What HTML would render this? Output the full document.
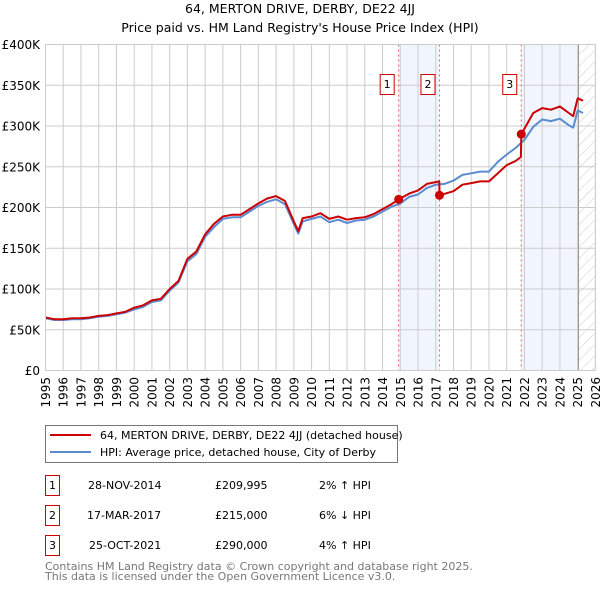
<!DOCTYPE html>
<html><head><meta charset="utf-8">
<style>
body{margin:0;background:#fff;width:600px;height:590px;overflow:hidden;font-family:"DejaVu Sans","Liberation Sans",sans-serif;}
svg{display:block}
</style></head>
<body>
<svg id="chart" width="600" height="590" xmlns="http://www.w3.org/2000/svg" font-family="DejaVu Sans, Liberation Sans, sans-serif">
<text x="300" y="13" text-anchor="middle" font-size="12.5" fill="#000">64, MERTON DRIVE, DERBY, DE22 4JJ</text>
<text x="300" y="32" text-anchor="middle" font-size="12.5" fill="#000">Price paid vs. HM Land Registry's House Price Index (HPI)</text>
<defs>
<pattern id="hatch" width="8" height="8" patternUnits="userSpaceOnUse" patternTransform="rotate(45)">
<line x1="0" y1="0" x2="0" y2="8" stroke="#ccc" stroke-width="1"/>
</pattern>
<clipPath id="plotclip"><rect x="45" y="44" width="550" height="326"/></clipPath>
</defs>
<g id="grid"></g>
<g id="bands"></g>
<g id="series" clip-path="url(#plotclip)"></g>
<g id="axes"></g>

<g>
<rect x="45.5" y="425.5" width="352" height="37" fill="#fff" stroke="#777"/>
<line x1="50" y1="435" x2="91" y2="435" stroke="#cc0000" stroke-width="2"/>
<text x="100" y="439" font-size="11">64, MERTON DRIVE, DERBY, DE22 4JJ (detached house)</text>
<line x1="50" y1="452" x2="91" y2="452" stroke="#5b8bd0" stroke-width="2"/>
<text x="100" y="456" font-size="11">HPI: Average price, detached house, City of Derby</text>
</g>

<g font-size="11">
<rect x="45.5" y="475.5" width="14" height="20" fill="#fff" stroke="#cc0000"/><text x="52.5" y="489" text-anchor="middle">1</text>
<text x="88" y="489">28-NOV-2014</text><text x="215" y="489">£209,995</text><text x="319" y="489">2% ↑ HPI</text>
<rect x="45.5" y="505.5" width="14" height="20" fill="#fff" stroke="#cc0000"/><text x="52.5" y="519" text-anchor="middle">2</text>
<text x="87" y="519">17-MAR-2017</text><text x="215" y="519">£215,000</text><text x="319" y="519">6% ↓ HPI</text>
<rect x="45.5" y="535.5" width="14" height="20" fill="#fff" stroke="#cc0000"/><text x="52.5" y="549" text-anchor="middle">3</text>
<text x="89" y="549">25-OCT-2021</text><text x="215" y="549">£290,000</text><text x="319" y="549">4% ↑ HPI</text>
</g>
<text x="45" y="570" font-size="11" fill="#777">Contains HM Land Registry data © Crown copyright and database right 2025.</text>
<text x="45" y="580" font-size="11" fill="#777">This data is licensed under the Open Government Licence v3.0.</text>
</svg>
<script>
const hpiDates=[1995,1995.5,1996,1996.5,1997,1997.5,1998,1998.5,1999,1999.5,2000,2000.5,2001,2001.5,2002,2002.5,2003,2003.5,2004,2004.5,2005,2005.5,2006,2006.5,2007,2007.5,2008,2008.5,2009,2009.25,2009.5,2010,2010.5,2011,2011.5,2012,2012.5,2013,2013.5,2014,2014.5,2015,2015.5,2016,2016.5,2017,2017.5,2018,2018.5,2019,2019.5,2020,2020.5,2021,2021.5,2022,2022.5,2023,2023.5,2024,2024.5,2024.75,2025,2025.3];
const hpiValues=[64,62,62,63,63,64,66,67,69,71,75,78,84,86,98,108,134,143,164,176,186,188,188,195,202,207,210,204,180,168,183,186,189,182,185,181,184,185,189,195,201,205,213,216,224,228,229,233,240,242,244,244,256,265,273,283,299,308,306,309,301,298,319,316];
const priceDates=[1995,1995.5,1996,1996.5,1997,1997.5,1998,1998.5,1999,1999.5,2000,2000.5,2001,2001.5,2002,2002.5,2003,2003.5,2004,2004.5,2005,2005.5,2006,2006.5,2007,2007.5,2008,2008.5,2009,2009.25,2009.5,2010,2010.5,2011,2011.5,2012,2012.5,2013,2013.5,2014,2014.5,2014.91,2015.5,2016,2016.5,2017.2,2017.21,2018,2018.5,2019,2019.5,2020,2020.5,2021,2021.5,2021.8,2021.82,2022.5,2023,2023.5,2024,2024.5,2024.75,2025,2025.3];
const priceValues=[65,63,63,64,64,65,67,68,70,72,77,80,86,88,100,110,137,146,167,180,189,191,191,198,205,211,214,208,183,171,187,189,193,186,189,185,187,188,192,198,204,209.995,217,221,229,232,215,220,228,230,232,232,242,252,257,262,290,316,322,320,324,316,312,334,331];
const sales=[{n:'1',d:2014.91,v:209.995},{n:'2',d:2017.21,v:215},{n:'3',d:2021.82,v:290}];
const yTicks=[0,50,100,150,200,250,300,350,400];
const yTickLabels=['£0','£50K','£100K','£150K','£200K','£250K','£300K','£350K','£400K'];
const xTicks=[1995,1996,1997,1998,1999,2000,2001,2002,2003,2004,2005,2006,2007,2008,2009,2010,2011,2012,2013,2014,2015,2016,2017,2018,2019,2020,2021,2022,2023,2024,2025,2026];

const X0=45.5,X1=595.4,Y0=370.5,Y1=44.5;
const xs=d=>X0+(d-1995)/31*(X1-X0);
const ys=v=>Y0-v/400*(Y0-Y1);
const NS='http://www.w3.org/2000/svg';
function mk(tag,attrs,parent){const e=document.createElementNS(NS,tag);for(const k in attrs)e.setAttribute(k,attrs[k]);parent.appendChild(e);return e;}
const grid=document.getElementById('grid'),bands=document.getElementById('bands'),series=document.getElementById('series'),axes=document.getElementById('axes');
mk('rect',{x:X0,y:Y1,width:X1-X0,height:Y0-Y1,fill:'#fff'},grid);
let b1=mk('rect',{x:xs(2014.91),y:Y1,width:xs(2017.21)-xs(2014.91),height:Y0-Y1,fill:'#eef3fc',opacity:0.8},bands);


let b2=mk('rect',{x:xs(2021.82),y:Y1,width:xs(2025.05)-xs(2021.82),height:Y0-Y1,fill:'#eef3fc',opacity:0.8},bands);


let hz=mk('rect',{x:xs(2025.05),y:Y1,width:X1-xs(2025.05),height:Y0-Y1,fill:'url(#hatch)'},bands);


xTicks.forEach(t=>{mk('line',{x1:xs(t),x2:xs(t),y1:Y1,y2:Y0,stroke:'#ccc','stroke-width':1},bands);});
yTicks.forEach(t=>{mk('line',{x1:X0,x2:X1,y1:ys(t),y2:ys(t),stroke:'#ccc','stroke-width':1},bands);});
mk('line',{x1:xs(2025.05),x2:xs(2025.05),y1:Y1,y2:Y0,stroke:'#999','stroke-width':1},bands);
sales.forEach(s=>{const l=mk('line',{x1:xs(s.d),x2:xs(s.d),y1:Y1,y2:Y0,stroke:'#e06666','stroke-width':1,'stroke-dasharray':'2,3'},bands);

});
function pts(ds,vs){return ds.map((d,i)=>xs(d).toFixed(1)+','+ys(vs[i]).toFixed(1)).join(' ');}
const hl=mk('polyline',{points:pts(hpiDates,hpiValues),fill:'none',stroke:'#5b8bd0','stroke-width':2,'stroke-linejoin':'round'},series);


const pl=mk('polyline',{points:pts(priceDates,priceValues),fill:'none',stroke:'#cc0000','stroke-width':2,'stroke-linejoin':'round'},series);


sales.forEach(s=>{const c=mk('circle',{cx:xs(s.d),cy:ys(s.v),r:4.5,fill:'#cc0000'},series);


const r=mk('rect',{x:xs(s.d)-18.5,y:74.5,width:14,height:20,fill:'#fff',stroke:'#cc0000'},axes);


const t=mk('text',{x:xs(s.d)-11.5,y:88,'text-anchor':'middle','font-size':11},axes);t.textContent=s.n;});
mk('rect',{x:X0,y:Y1,width:X1-X0,height:Y0-Y1,fill:'none',stroke:'#ccc'},axes);
yTicks.forEach((t,i)=>{const e=mk('text',{x:40,y:ys(t)+4.5,'text-anchor':'end','font-size':12},axes);e.textContent=yTickLabels[i];

});
xTicks.forEach(t=>{const x=xs(t)+4.5,y=377;const e=mk('text',{x:x,y:y,'text-anchor':'end','font-size':12,transform:'rotate(-90 '+x+' '+y+')'},axes);e.textContent=t;

});
</script>
</body></html>
